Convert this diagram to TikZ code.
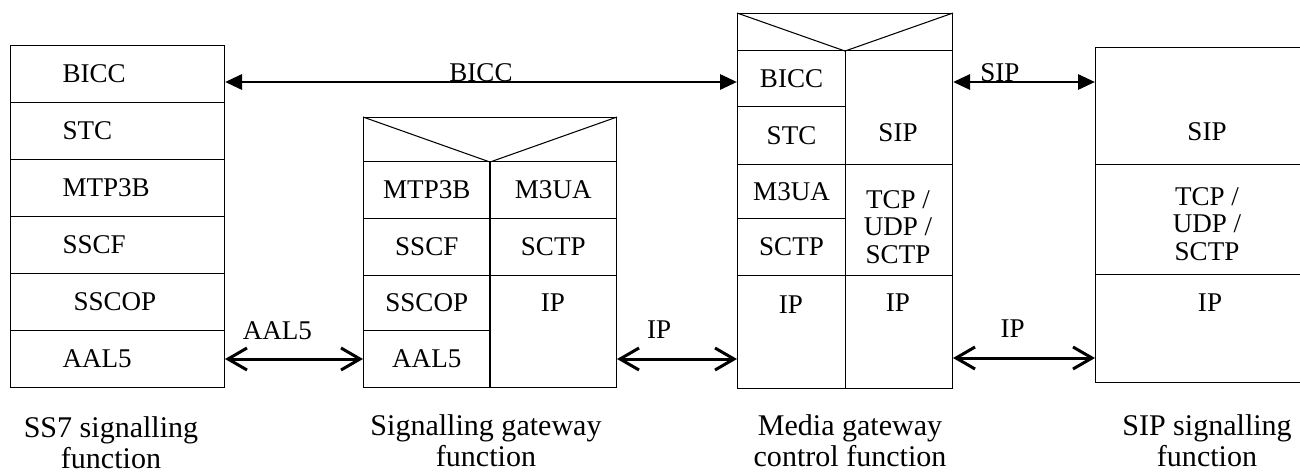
\documentclass[tikz,border=0pt]{standalone}
\usepackage{fontspec}
\setmainfont{Liberation Serif}
\usepackage{tikz}
\usetikzlibrary{arrows.meta, calc}
\newcommand{\stackfont}{\fontsize{15.4pt}{15.7pt}\selectfont}
\newcommand{\namefont}{\fontsize{17.1pt}{17.6pt}\selectfont}

\begin{document}
\begin{tikzpicture}[
    x=0.02cm, y=-0.02cm,
    cell/.style={rectangle, draw, line width=0.6pt, inner sep=0pt, anchor=north west,
                 font=\stackfont, align=center},
    ss7cell/.style={cell, minimum height=1.14cm, text width=2.2cm, align=left, inner xsep=1.04cm},
    sgwcell/.style={cell, minimum width=2.53cm},
    mgleft/.style={cell, minimum width=2.16cm},
    mgright/.style={cell, minimum width=2.14cm},
    sipcell/.style={cell, minimum width=4.46cm},
    txt/.style={font=\stackfont, align=center, inner sep=0pt},
    fatlink/.style={line width=0.06cm, {Triangle[length=0.34cm,width=0.3cm]}-{Triangle[length=0.34cm,width=0.3cm]}},
    openlink/.style={line width=0.06cm, {Straight Barb[length=0.38cm,width=0.44cm]}-{Straight Barb[length=0.38cm,width=0.44cm]}},
    lbl/.style={font=\stackfont, inner sep=0pt, anchor=base},
    fname/.style={font=\namefont, align=center, inner sep=0pt, anchor=north}
]
    \path[use as bounding box, clip] (0,0) rectangle (1300,473);

    % SS7 signalling function
    \node[ss7cell] (ss7bicc) at (10,45) {BICC};
    \node[ss7cell] (ss7stc) at (10,102) {STC};
    \node[ss7cell] (ss7mtp) at (10,159) {MTP3B};
    \node[ss7cell] (ss7sscf) at (10,216) {SSCF};
    \node[ss7cell] (ss7sscop) at (10,273) {\hspace{0.22cm}SSCOP};
    \node[ss7cell] (ss7aal5) at (10,330) {AAL5};

    % Signalling gateway function
    \node[cell, minimum width=5.06cm, minimum height=0.88cm] (sgwtop) at (363,117) {};
    \draw[line width=0.6pt] (sgwtop.north west) -- (sgwtop.south) -- (sgwtop.north east);
    \node[sgwcell, minimum height=1.14cm] (sgwmtp) at (363,161) {MTP3B};
    \node[sgwcell, minimum height=1.14cm] (sgwsscf) at (363,218) {SSCF};
    \node[sgwcell, minimum height=1.1cm] (sgwsscop) at (363,275) {SSCOP};
    \node[sgwcell, minimum height=1.14cm] (sgwaal5) at (363,330) {AAL5};
    \node[sgwcell, minimum height=1.14cm] (sgwm3ua) at (489.5,161) {M3UA};
    \node[sgwcell, minimum height=1.14cm] (sgwsctp) at (489.5,218) {SCTP};
    \node[sgwcell, minimum height=2.24cm] (sgwip) at (489.5,275) {};
    \node[txt] (sgwiptxt) at (553,303) {IP};

    % Media gateway control function
    \node[cell, minimum width=4.3cm, minimum height=0.74cm] (mgtop) at (737,13) {};
    \draw[line width=0.6pt] (mgtop.north west) -- (mgtop.south) -- (mgtop.north east);
    \node[mgleft, minimum height=1.12cm] (mgbicc) at (737,50) {BICC};
    \node[mgleft, minimum height=1.16cm] (mgstc) at (737,106) {STC};
    \node[mgleft, minimum height=1.08cm] (mgm3ua) at (737,164) {M3UA};
    \node[mgleft, minimum height=1.14cm] (mgsctp) at (737,218) {SCTP};
    \node[mgleft, minimum height=2.26cm] (mgipl) at (737,275) {};
    \node[mgright, minimum height=2.28cm] (mgsip) at (845,50) {};
    \node[mgright, minimum height=2.22cm] (mgtcp) at (845,164) {};
    \node[mgright, minimum height=2.26cm] (mgipr) at (845,275) {};
    \node[txt] (mgipltxt) at (791,305) {IP};
    \node[txt] (mgsiptxt) at (898,133) {SIP};
    \node[txt] (mgtcptxt) at (898,227) {TCP /\\UDP /\\SCTP};
    \node[txt] (mgiprtxt) at (898,303) {IP};

    % SIP signalling function
    \node[sipcell, minimum height=2.34cm] (sipsip) at (1095,47) {};
    \node[sipcell, minimum height=2.2cm] (siptcp) at (1095,164) {};
    \node[sipcell, minimum height=2.16cm] (sipip) at (1095,274) {};
    \node[txt] (sipsiptxt) at (1207,132) {SIP};
    \node[txt] (siptcptxt) at (1207,224) {TCP /\\UDP /\\SCTP};
    \node[txt] (sipiptxt) at (1210,303) {IP};

    % Links
    \draw[fatlink] (ss7bicc.east |- 0,82) -- (mgbicc.west |- 0,82) node[lbl, pos=0.5] (biccl) {BICC};
    \draw[fatlink] (mgsip.east |- 0,82) -- (sipsip.west |- 0,82) node[lbl, pos=0.33] (sipl) {SIP};
    \draw[openlink] (ss7aal5.east |- 0,359) -- (sgwaal5.west |- 0,359) node[lbl, pos=0.38, yshift=0.4cm] (aal5l) {AAL5};
    \draw[openlink] (sgwip.east |- 0,359) -- (mgipl.west |- 0,359) node[lbl, pos=0.35, yshift=0.42cm] (ipl) {IP};
    \draw[openlink] (mgipr.east |- 0,358) -- (sipip.west |- 0,358) node[lbl, pos=0.42, yshift=0.42cm] (ipr) {IP};

    % Names
    \node[fname] (ss7name) at (111,416) {SS7 signalling\\function};
    \node[fname] (sgwname) at (486,414) {Signalling gateway\\function};
    \node[fname] (mgname) at (850,414) {Media gateway\\control function};
    \node[fname] (sipname) at (1207,414) {SIP signalling\\function};
\end{tikzpicture}
\end{document}
